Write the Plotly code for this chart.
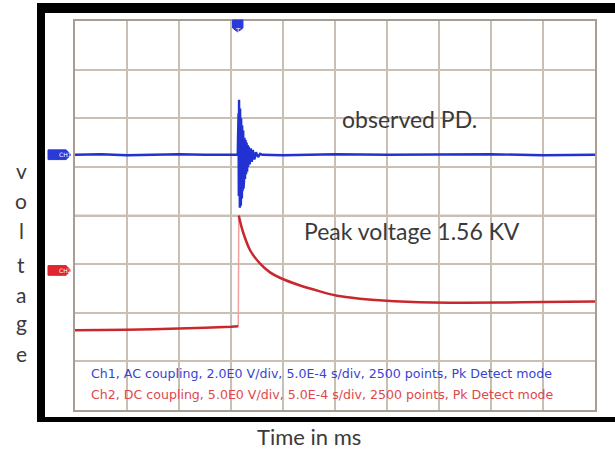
import plotly.graph_objects as go

# ---- data (screen divisions: x 0..10, y -4..4) ----
ch1_left_x = [0.0, 0.5, 1.0, 1.5, 2.0, 2.5, 3.0, 3.12]
ch1_left_y = [1.25, 1.26, 1.24, 1.25, 1.26, 1.25, 1.24, 1.25]
burst_x = [3.13, 3.135, 3.14, 3.145, 3.15, 3.155, 3.16, 3.165, 3.17, 3.175,
           3.18, 3.185, 3.19, 3.195, 3.20, 3.205, 3.21, 3.215, 3.22, 3.225,
           3.23, 3.235, 3.24, 3.245, 3.25, 3.26, 3.27, 3.28, 3.29, 3.30,
           3.31, 3.32, 3.33, 3.34, 3.36, 3.38, 3.40, 3.42, 3.45, 3.48,
           3.52, 3.56]
burst_y = [1.25, 1.6, 0.9, 2.1, 0.4, 2.38, 0.2, 2.3, 0.16, 2.2,
           0.3, 2.1, 0.2, 2.0, 0.4, 1.95, 0.35, 1.85, 0.5, 1.8,
           0.6, 1.75, 0.55, 1.7, 0.7, 1.6, 0.75, 1.55, 0.85, 1.5,
           0.9, 1.45, 1.0, 1.42, 1.05, 1.38, 1.1, 1.35, 1.15, 1.3,
           1.2, 1.27]
ch1_right_x = [3.6, 4.0, 5.0, 6.0, 7.0, 8.0, 9.0, 10.0]
ch1_right_y = [1.25, 1.24, 1.26, 1.25, 1.25, 1.26, 1.24, 1.25]

ch2_base_x = [0.0, 0.5, 1.0, 1.5, 2.0, 2.5, 3.0, 3.14]
ch2_base_y = [-2.36, -2.36, -2.35, -2.34, -2.33, -2.31, -2.29, -2.28]
ch2_rise_x = [3.14, 3.15]
ch2_rise_y = [-2.28, 0.0]
ch2_decay_x = [3.15, 3.17, 3.24, 3.37, 3.56, 3.75, 3.94, 4.33, 4.71, 5.04,
               5.48, 5.92, 6.88, 8.17, 9.0, 10.0]
ch2_decay_y = [0.0, -0.1, -0.37, -0.72, -0.99, -1.17, -1.28, -1.44, -1.56, -1.65,
               -1.71, -1.75, -1.79, -1.79, -1.78, -1.77]

ch1_level = 1.25
ch2_marker_level = -1.13
trigger_x = 3.13

ylabel_letters = ["v", "o", "l", "t", "a", "g", "e"]
info_ch1 = "Ch1, AC coupling, 2.0E0 V/div, 5.0E-4 s/div, 2500 points, Pk Detect mode"
info_ch2 = "Ch2, DC coupling, 5.0E0 V/div, 5.0E-4 s/div, 2500 points, Pk Detect mode"

BLUE = "#2232d2"
RED = "#c8282d"
GRID = "#c9bfb4"
CENTER = "#93877c"
TXT = "#3a3a3a"

W, H = 615, 451
ML, MR, MT, MB = 75, 20, 21, 41
PW, PH = W - ML - MR, H - MT - MB


def px(x):
    return (x - ML) / PW


def py(y):
    return (H - MB - y) / PH


fig = go.Figure()
fig.add_trace(go.Scatter(x=ch1_left_x + burst_x + ch1_right_x,
                         y=ch1_left_y + burst_y + ch1_right_y,
                         mode="lines", line=dict(color=BLUE, width=2.4),
                         hoverinfo="skip", showlegend=False))
fig.add_trace(go.Scatter(x=ch2_rise_x, y=ch2_rise_y, mode="lines",
                         line=dict(color="#f0a0a0", width=1.5),
                         hoverinfo="skip", showlegend=False))
fig.add_trace(go.Scatter(x=ch2_base_x, y=ch2_base_y, mode="lines",
                         line=dict(color=RED, width=2.5),
                         hoverinfo="skip", showlegend=False))
fig.add_trace(go.Scatter(x=ch2_decay_x, y=ch2_decay_y, mode="lines",
                         line=dict(color=RED, width=2.5, shape="spline", smoothing=0.6),
                         hoverinfo="skip", showlegend=False))

shapes = []
# centre graticule lines
shapes.append(dict(type="line", xref="x", yref="paper", x0=5, x1=5, y0=0, y1=1,
                   line=dict(color=CENTER, width=1.5), layer="below"))
shapes.append(dict(type="line", xref="paper", yref="y", x0=0, x1=1, y0=0, y1=0,
                   line=dict(color=CENTER, width=1.5), layer="below"))
# black frame
shapes.append(dict(type="rect", xref="paper", yref="paper",
                   x0=px(37), x1=px(45), y0=py(422), y1=py(3),
                   fillcolor="black", line=dict(width=0)))
shapes.append(dict(type="rect", xref="paper", yref="paper",
                   x0=px(37), x1=px(615), y0=py(13), y1=py(3),
                   fillcolor="black", line=dict(width=0)))
shapes.append(dict(type="rect", xref="paper", yref="paper",
                   x0=px(37), x1=px(615), y0=py(422), y1=py(417),
                   fillcolor="black", line=dict(width=0)))


def tag(level, color):
    x0, x1, xp = px(48), px(66), px(71)
    h = 0.1
    return dict(type="path", xref="paper", yref="y",
                path=f"M {x0} {level-h} L {x1} {level-h} L {xp} {level} "
                     f"L {x1} {level+h} L {x0} {level+h} Z",
                fillcolor=color, line=dict(color=color, width=1))


shapes.append(tag(ch1_level, "#2a3ad8"))
shapes.append(tag(ch2_marker_level, "#e0262e"))
# trigger marker
tw = 0.1
shapes.append(dict(type="path", xref="x", yref="paper",
                   path=f"M {trigger_x-tw} {py(20)} L {trigger_x+tw} {py(20)} "
                        f"L {trigger_x+tw} {py(28)} L {trigger_x} {py(32)} "
                        f"L {trigger_x-tw} {py(28)} Z",
                   fillcolor="#2a3ad8", line=dict(color="#2a3ad8", width=1)))

annotations = []
for lbl, lev in [("CH1", ch1_level), ("CH2", ch2_marker_level)]:
    annotations.append(dict(text=lbl, xref="paper", yref="y", x=px(57), y=lev,
                            showarrow=False, font=dict(size=6, color="white",
                                                       family="DejaVu Sans")))
annotations.append(dict(text="T", xref="x", yref="paper", x=trigger_x, y=py(25),
                        showarrow=False, font=dict(size=7, color="white",
                                                   family="DejaVu Sans")))
annotations.append(dict(text="observed PD.", xref="paper", yref="paper",
                        x=px(340), y=py(119), xanchor="left", yanchor="middle",
                        showarrow=False, font=dict(size=23, color=TXT, family="Lato")))
annotations.append(dict(text="Peak voltage 1.56 KV", xref="paper", yref="paper",
                        x=px(302), y=py(231), xanchor="left", yanchor="middle",
                        showarrow=False, font=dict(size=23, color=TXT, family="Lato")))
annotations.append(dict(text=info_ch1, xref="paper", yref="paper",
                        x=px(89), y=py(373), xanchor="left", yanchor="middle",
                        showarrow=False, font=dict(size=12.6, color="#3844d0",
                                                   family="DejaVu Sans")))
annotations.append(dict(text=info_ch2, xref="paper", yref="paper",
                        x=px(89), y=py(394), xanchor="left", yanchor="middle",
                        showarrow=False, font=dict(size=12.6, color="#e0484c",
                                                   family="DejaVu Sans")))
annotations.append(dict(text="Time in ms", xref="paper", yref="paper",
                        x=px(309), y=py(436), xanchor="center", yanchor="middle",
                        showarrow=False, font=dict(size=22, color=TXT, family="Lato")))
ypos = [170, 200, 230, 264, 294, 322, 353]
for ch, yy in zip(ylabel_letters, ypos):
    annotations.append(dict(text=ch, xref="paper", yref="paper", x=px(21), y=py(yy),
                            xanchor="center", yanchor="middle", showarrow=False,
                            font=dict(size=21, color=TXT, family="Lato")))

axis_common = dict(showgrid=True, gridcolor=GRID, gridwidth=1.5, zeroline=False,
                   showticklabels=False, ticks="", showline=True, mirror=True,
                   linecolor="#a99d91", linewidth=1.5, fixedrange=True)
fig.update_layout(
    width=W, height=H,
    margin=dict(l=ML, r=MR, t=MT, b=MB, pad=0),
    paper_bgcolor="white", plot_bgcolor="white",
    xaxis=dict(range=[0, 10], dtick=1, tick0=0, **axis_common),
    yaxis=dict(range=[-4, 4], dtick=1, tick0=0, **axis_common),
    shapes=shapes, annotations=annotations, showlegend=False,
)
fig.write_html("out.html")
